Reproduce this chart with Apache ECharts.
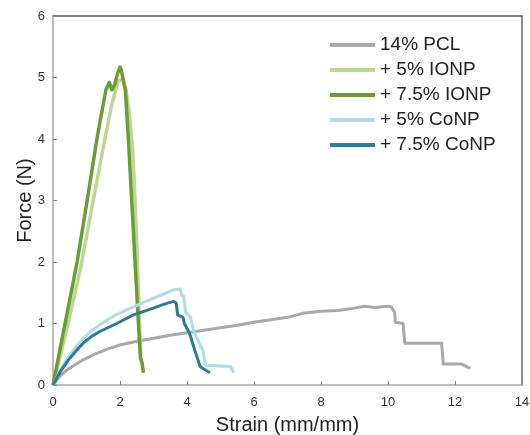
<!DOCTYPE html>
<html>
<head>
<meta charset="utf-8">
<script src="https://cdn.jsdelivr.net/npm/echarts@6/dist/echarts.min.js"></script>
<style>html,body{margin:0;padding:0;background:#fff;}#c{width:530px;height:435px;}</style>
</head>
<body>
<div id="c"></div>
<script>
const seriesNames = ['14% PCL', '+ 5% IONP', '+ 7.5% IONP', '+ 5% CoNP', '+ 7.5% CoNP'];
const xTicks = [0, 2, 4, 6, 8, 10, 12, 14];
const yTicks = [0, 1, 2, 3, 4, 5, 6];

const pclX = [0, 0.2, 0.41, 0.6, 0.9, 1.2, 1.6, 2.0, 2.5, 3.0, 3.5, 4.0, 4.5, 5.0, 5.5, 6.0, 6.5, 7.0, 7.5, 8.0, 8.5, 9.0, 9.3, 9.6, 10.0, 10.1, 10.2, 10.22, 10.45, 10.5, 11.6, 11.65, 12.2, 12.45];
const pclY = [0, 0.14, 0.24, 0.31, 0.41, 0.49, 0.58, 0.65, 0.71, 0.76, 0.81, 0.85, 0.89, 0.93, 0.97, 1.02, 1.06, 1.1, 1.17, 1.2, 1.21, 1.25, 1.28, 1.26, 1.28, 1.27, 1.18, 1.02, 1.0, 0.68, 0.68, 0.34, 0.34, 0.27];

const ionp5X = [0, 0.45, 0.86, 1.2, 1.55, 1.75, 1.95, 2.08, 2.18, 2.28, 2.38, 2.45, 2.52, 2.58, 2.62];
const ionp5Y = [0, 1.0, 2.0, 3.0, 4.0, 4.55, 4.95, 4.97, 4.8, 4.4, 3.8, 3.0, 2.0, 1.0, 0.5];

const ionp75X = [0, 0.36, 0.72, 1.02, 1.31, 1.58, 1.68, 1.76, 1.84, 1.92, 2.0, 2.04, 2.1, 2.16, 2.25, 2.35, 2.45, 2.55, 2.61, 2.66, 2.7];
const ionp75Y = [0, 1.0, 2.0, 3.0, 4.0, 4.8, 4.92, 4.8, 4.88, 5.05, 5.17, 5.12, 4.95, 4.8, 4.0, 3.0, 2.0, 1.0, 0.45, 0.35, 0.2];

const conp5X = [0, 0.2, 0.45, 0.7, 0.9, 1.15, 1.4, 1.9, 2.4, 2.9, 3.4, 3.6, 3.8, 3.84, 3.9, 3.96, 4.1, 4.2, 4.35, 4.48, 4.55, 5.3, 5.4];
const conp5Y = [0, 0.22, 0.45, 0.63, 0.76, 0.88, 0.98, 1.15, 1.27, 1.39, 1.50, 1.55, 1.56, 1.46, 1.45, 1.18, 1.1, 0.88, 0.7, 0.55, 0.32, 0.3, 0.2];

const conp75X = [0, 0.2, 0.45, 0.7, 0.9, 1.15, 1.4, 1.9, 2.4, 3.0, 3.3, 3.6, 3.68, 3.72, 3.88, 3.92, 4.05, 4.1, 4.2, 4.39, 4.5, 4.69];
const conp75Y = [0, 0.2, 0.4, 0.56, 0.68, 0.79, 0.87, 1.0, 1.14, 1.25, 1.31, 1.36, 1.33, 1.14, 1.10, 1.0, 0.87, 0.8, 0.62, 0.3, 0.26, 0.2];

const colors = ['#a9a9a9', '#bcd694', '#6f9b35', '#aedcea', '#2a7d92'];
const widths = [3, 3.5, 3.5, 3, 3];
const allX = [pclX, ionp5X, ionp75X, conp5X, conp75X];
const allY = [pclY, ionp5Y, ionp75Y, conp5Y, conp75Y];

const zip = (xs, ys) => xs.map((x, i) => [x, ys[i]]);
const font = 'Liberation Sans, Arial, sans-serif';

const chart = echarts.init(document.getElementById('c'));
chart.setOption({
  animation: false,
  backgroundColor: '#fff',
  grid: { left: 53, right: 8, top: 16, bottom: 50, containLabel: false, outerBoundsMode: 'none' },
  legend: {
    orient: 'vertical', left: 330, top: 35, padding: 0,
    icon: 'rect', itemWidth: 45, itemHeight: 4, itemGap: 5, itemTextGap: 3,
    textStyle: { fontFamily: font, fontSize: 19, color: '#222', lineHeight: 20 },
    data: seriesNames
  },
  xAxis: [{
    type: 'value', min: xTicks[0], max: xTicks[xTicks.length - 1], interval: xTicks[1] - xTicks[0],
    name: 'Strain (mm/mm)', nameLocation: 'middle', nameGap: 30, nameMoveOverlap: false,
    nameTextStyle: { fontFamily: font, fontSize: 20, color: '#222' },
    axisLine: { onZero: false, lineStyle: { color: '#a8a8a8', width: 1.5 } },
    axisTick: { inside: true, length: 4, lineStyle: { color: '#888' } },
    axisLabel: { fontFamily: font, fontSize: 13, color: '#333', margin: 11 },
    splitLine: { show: false }
  }, {
    type: 'value', position: 'top', min: 0, max: 14,
    axisLine: { show: true, onZero: false, lineStyle: { color: '#555', width: 1.5 } },
    axisTick: { show: false }, axisLabel: { show: false }, splitLine: { show: false }
  }],
  yAxis: [{
    type: 'value', min: yTicks[0], max: yTicks[yTicks.length - 1], interval: yTicks[1] - yTicks[0],
    name: 'Force (N)', nameLocation: 'middle', nameGap: 18, nameMoveOverlap: false,
    nameTextStyle: { fontFamily: font, fontSize: 20, color: '#222' },
    axisLine: { show: true, onZero: false, lineStyle: { color: '#a8a8a8', width: 1.5 } },
    axisTick: { show: true, inside: true, length: 4, lineStyle: { color: '#888' } },
    axisLabel: { fontFamily: font, fontSize: 13, color: '#333', margin: 8 },
    splitLine: { show: false }
  }, {
    type: 'value', position: 'right', min: 0, max: 6,
    axisLine: { show: true, onZero: false, lineStyle: { color: '#666', width: 1.5 } },
    axisTick: { show: false }, axisLabel: { show: false }, splitLine: { show: false }
  }],
  series: seriesNames.map((n, i) => ({
    name: n, type: 'line', data: zip(allX[i], allY[i]),
    showSymbol: false, symbol: 'none',
    itemStyle: { color: colors[i] },
    lineStyle: { color: colors[i], width: widths[i], join: 'round' }
  }))
});
</script>
</body>
</html>
